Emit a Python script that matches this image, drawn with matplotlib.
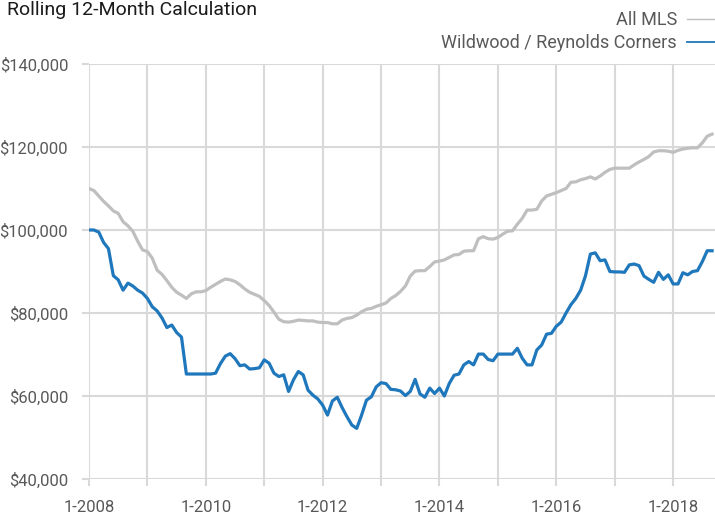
import matplotlib
matplotlib.use('agg')
import matplotlib.pyplot as plt
from matplotlib.lines import Line2D

# Monthly rolling 12-month values, Jan 2008 .. Sep 2018 (thousands of $)
all_mls = [
    110.0, 109.5, 108.2, 106.9, 105.8, 104.6, 104.0, 102.0, 101.0, 99.7,
    97.3, 95.2, 94.8, 93.2, 90.3, 89.3, 87.8, 86.2, 85.0, 84.3,
    83.5, 84.6, 85.1, 85.1, 85.4, 86.2, 86.9, 87.6, 88.2, 88.0,
    87.6, 86.8, 85.8, 85.0, 84.5, 84.0, 83.0, 81.8, 80.2, 78.5,
    77.9, 77.8, 78.0, 78.3, 78.2, 78.1, 78.1, 77.8, 77.7, 77.7,
    77.4, 77.4, 78.3, 78.7, 78.9, 79.5, 80.3, 80.9, 81.1, 81.6,
    82.0, 82.4, 83.5, 84.2, 85.2, 86.5, 88.9, 90.1, 90.2, 90.2,
    91.2, 92.3, 92.5, 92.8, 93.4, 94.0, 94.1, 94.9, 95.0, 95.0,
    97.9, 98.4, 97.9, 97.8, 98.2, 99.0, 99.7, 99.8, 101.4, 102.8,
    104.8, 104.8, 105.0, 107.0, 108.2, 108.6, 109.0, 109.5, 110.0, 111.5,
    111.6, 112.1, 112.4, 112.8, 112.3, 113.0, 113.9, 114.6, 114.9, 114.9,
    114.9, 114.9, 115.7, 116.4, 117.0, 117.7, 118.8, 119.1, 119.1, 119.0,
    118.7, 119.2, 119.5, 119.7, 119.8, 119.8, 121.0, 122.6, 123.1,
]
wildwood = [
    100.0, 100.0, 99.5, 97.0, 95.5, 89.0, 88.0, 85.5, 87.2, 86.5,
    85.5, 84.8, 83.5, 81.5, 80.5, 78.8, 76.5, 77.1, 75.3, 74.2,
    65.3, 65.3, 65.3, 65.3, 65.3, 65.3, 65.5, 67.8, 69.6, 70.2,
    69.0, 67.3, 67.5, 66.5, 66.6, 66.8, 68.7, 67.9, 65.5, 64.7,
    65.1, 61.1, 63.9, 65.9, 65.1, 61.4, 60.2, 59.3, 57.8, 55.4,
    58.8, 59.7, 57.2, 55.0, 53.0, 52.2, 55.4, 59.0, 59.8, 62.2,
    63.2, 63.0, 61.6, 61.5, 61.2, 60.1, 61.1, 64.0, 60.5, 59.7,
    61.9, 60.6, 61.9, 60.0, 63.0, 65.0, 65.3, 67.5, 68.3, 67.5,
    70.1, 70.1, 68.8, 68.5, 70.1, 70.1, 70.1, 70.1, 71.5, 69.1,
    67.5, 67.5, 71.1, 72.3, 74.9, 75.1, 76.8, 77.8, 80.0, 82.0,
    83.5, 85.5, 89.0, 94.2, 94.5, 92.6, 92.8, 90.0, 89.9, 89.9,
    89.8, 91.6, 91.8, 91.4, 88.9, 88.1, 87.4, 89.8, 88.1, 89.2,
    87.0, 87.0, 89.7, 89.2, 90.0, 90.2, 92.4, 95.0, 95.0,
]
series_names = ['All MLS', 'Wildwood / Reynolds Corners']
y_ticks = [40000, 60000, 80000, 100000, 120000, 140000]
year_ticks = list(range(0, 121, 12))
year_labels = ['1-%d' % (2008 + i) if i % 2 == 0 else ''
               for i in range(len(year_ticks))]

GRID = '#d9d9d9'
GREY = '#bfbfbf'
BLUE = '#1f77bc'
TEXT = '#595959'

plt.rcParams['font.family'] = ['Roboto', 'DejaVu Sans']

W, H = 715, 514
fig = plt.figure(figsize=(W / 100, H / 100), dpi=100)
ax = fig.add_axes([89 / W, (H - 479) / H, (W - 89) / W, (479 - 64) / H])

months = range(len(all_mls))
ax.plot(months, [v * 1000 for v in all_mls], color=GREY, lw=2.3,
        solid_joinstyle='round', zorder=3)
ax.plot(months, [v * 1000 for v in wildwood], color=BLUE, lw=2.3,
        solid_joinstyle='round', zorder=4)

ax.set_xlim(0, 128.6)
ax.set_ylim(40000, 140000)
ax.set_xticks(year_ticks)
ax.set_xticklabels(year_labels)
ax.set_yticks(y_ticks)
ax.set_yticklabels(['${:,}'.format(v) for v in y_ticks])

ax.grid(True, color=GRID, lw=1.5, zorder=0)
ax.set_axisbelow(True)
for s in ax.spines.values():
    s.set_visible(False)
ax.tick_params(axis='both', length=5, width=1.5, color=GRID,
               labelcolor=TEXT, labelsize=12)
ax.tick_params(axis='y', pad=10)
ax.tick_params(axis='x', pad=10)

fig.text(7 / W, 1 - 1 / H, 'Rolling 12-Month Calculation', ha='left',
         va='top', fontsize=14, color='#1a1a1a')

# legend drawn by hand in the top right corner
for name, color, base, ly, lw in [(series_names[0], GREY, 25, 19, 1.0),
                                  (series_names[1], BLUE, 48, 42, 1.3)]:
    fig.text(677 / W, 1 - base / H, name, ha='right', va='baseline',
             fontsize=13, color=TEXT)
    fig.add_artist(Line2D([687 / W, 1.0], [1 - ly / H, 1 - ly / H],
                          transform=fig.transFigure, color=color, lw=lw))

plt.savefig('out.png', dpi=100)
